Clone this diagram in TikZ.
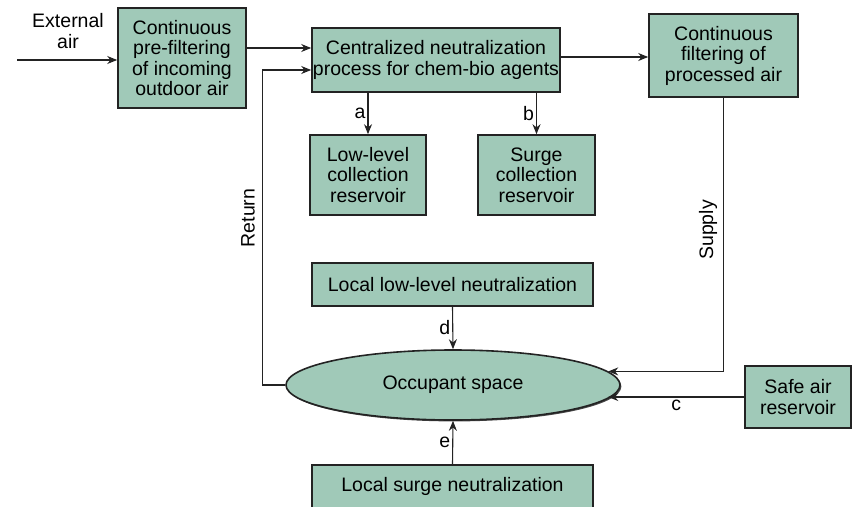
\documentclass[tikz,border=0pt]{standalone}
\usepackage{fontspec}
\setmainfont{Liberation Sans}
\usetikzlibrary{shapes, arrows.meta, positioning, calc, shadows}
\definecolor{boxgreen}{RGB}{160, 201, 184}
\definecolor{edgedark}{RGB}{35, 35, 35}

\begin{document}
\begin{tikzpicture}[x=1pt, y=-1pt, font=\fontsize{19.5}{20.5}\selectfont,
    unit/.style={draw=edgedark, line width=1.6pt, fill=boxgreen, align=center, inner sep=0pt,
      drop shadow={shadow xshift=1.4pt, shadow yshift=-1.4pt, fill=black!80, opacity=0.9}},
    flow/.style={-{Stealth[length=10pt, width=8pt]}, line width=1.1pt, draw=edgedark},
    tag/.style={inner sep=2pt}]
  \useasboundingbox (0, 0) rectangle (854, 506);

  % Treatment line
  \node[tag, align=center] (extlbl) at (68, 31) {External\\air};
  \coordinate (extin) at (17, 60);
  \node[unit, minimum width=128, minimum height=100] (prefilt) at (182, 58)
    {Continuous\\pre-filtering\\of incoming\\outdoor air};
  \node[unit, minimum width=248, minimum height=64] (cenproc) at (436, 60)
    {Centralized neutralization\\process for chem-bio agents};
  \node[unit, minimum width=149, minimum height=83] (postfilt) at (723.5, 55.5)
    {Continuous\\filtering of\\processed air};

  % Reservoirs
  \node[unit, minimum width=116, minimum height=80] (lowres) at (368, 175)
    {Low-level\\collection\\reservoir};
  \node[unit, minimum width=117, minimum height=80] (surgeres) at (536.5, 175)
    {Surge\\collection\\reservoir};
  \node[unit, minimum width=106, minimum height=62] (safeair) at (798, 397)
    {Safe air\\reservoir};

  % Occupant space and local units
  \node[unit, minimum width=281, minimum height=43] (locallow) at (452.5, 284.5)
    {Local low-level neutralization};
  \node[unit, ellipse, minimum width=334, minimum height=70] (occ) at (453, 385)
    {Occupant space};
  \node[unit, minimum width=281, minimum height=43] (localsurge) at (452.5, 486.5)
    {Local surge neutralization};

  % Connectors
  \coordinate (cenin) at ($(cenproc.west)+(0,-12)$);
  \coordinate (retin) at ($(cenproc.west)+(0,10)$);
  \coordinate (cenout) at ($(cenproc.east)+(0,-3)$);
  \draw[flow] (extin) -- (extin -| prefilt.west);
  \draw[flow] (cenin -| prefilt.east) -- (cenin);
  \draw[flow] (cenout) -- (cenout -| postfilt.west);
  \draw[flow] (cenproc.south -| lowres) -- node[tag, left] {a} (lowres.north);
  \draw[flow] (cenproc.south -| surgeres) -- node[tag, left] {b} (surgeres.north);
  \draw[flow] (locallow.south) -- node[tag, left] {d} (occ.north);
  \draw[flow] (localsurge.north) -- node[tag, left] {e} (occ.south);
  \draw[flow] (postfilt.south) |- (occ.5);
  \draw[flow] (safeair.west) -- node[tag, below] {c} (safeair.west -| occ.-5);
  \draw[flow] (occ.west) -- ++(-23, 0) |- (retin);
  \node[rotate=90] (retlbl) at (248, 218) {Return};
  \node[rotate=90] (suplbl) at (708, 230) {Supply};
\end{tikzpicture}
\end{document}
